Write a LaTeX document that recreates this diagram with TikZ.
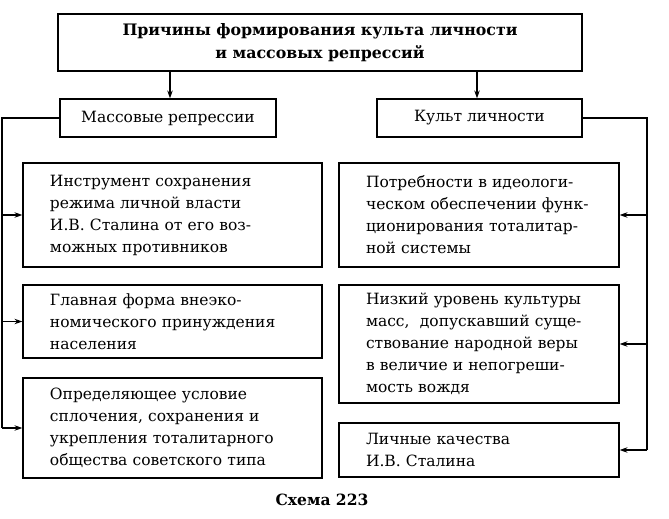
\documentclass[tikz,border=0pt]{standalone}
\usepackage{fontspec}
\setmainfont{DejaVu Serif}
\usepackage{xcolor}
\usetikzlibrary{arrows.meta}
\newcommand{\boxinset}{\leftskip=23pt\relax}
\tikzstyle{causeBlock}=[draw,line width=1.2pt,inner xsep=4pt,inner ysep=0pt,align=left,font=\fontsize{15.5}{22}\selectfont,execute at begin node=\boxinset]
\tikzstyle{headBlock}=[draw,line width=1.2pt,inner sep=0pt,font=\fontsize{15.5}{22}\selectfont]
\tikzstyle{titleBlock}=[draw,line width=1.2pt,inner sep=0pt,align=center,font=\bfseries\fontsize{15.8}{23}\selectfont]
\tikzstyle{invisNode}=[circle, line width=0mm, inner sep=0pt]
\tikzstyle{feedLine}=[line width=1.2pt]
\tikzstyle{feedArrow}=[-{Stealth[length=8pt,width=5.5pt]}, line width=1.2pt]

\begin{document}
\begin{tikzpicture}[x=1pt,y=-1pt]
    \useasboundingbox (0,0) rectangle (669,519);

    % Title
    \node[titleBlock,minimum width=524pt,minimum height=57pt] (title) at (320,42.5) {Причины формирования культа личности\\ и массовых репрессий};

    % Two branches
    \node[headBlock,minimum width=216pt,minimum height=38pt] (repr) at (168,118) {Массовые репрессии};
    \node[headBlock,minimum width=205pt,minimum height=38pt] (cult) at (479.5,118) {Культ личности};
    \draw[feedArrow] (title.south -| 170,0) -- (repr.north -| 170,0);
    \draw[feedArrow] (title.south -| 477,0) -- (cult.north -| 477,0);

    % Left column
    \node[causeBlock,text width=291pt,minimum height=104pt] (l1) at (172.5,215) {Инструмент сохранения\\ режима личной власти\\ И.В. Сталина от его воз-\\ можных противников};
    \node[causeBlock,text width=291pt,minimum height=73pt] (l2) at (172.5,321.5) {Главная форма внеэко-\\ номического принуждения\\ населения};
    \node[causeBlock,text width=291pt,minimum height=100pt] (l3) at (172.5,428) {Определяющее условие\\ сплочения, сохранения и\\ укрепления тоталитарного\\ общества советского типа};

    \coordinate (lbusTop) at (2,118);
    \coordinate (lbusBot) at (2,428);
    \draw[feedLine] (repr.west) -- (lbusTop) -- (lbusBot);
    \draw[feedArrow] (lbusTop |- l1.west) -- (l1.west);
    \draw[feedArrow] (lbusTop |- l2.west) -- (l2.west);
    \draw[feedArrow] (lbusBot) -- (l3.west);

    % Right column
    \node[causeBlock,text width=272pt,minimum height=104pt] (r1) at (479,215) {Потребности в идеологи-\\ ческом обеспечении функ-\\ ционирования тоталитар-\\ ной системы};
    \node[causeBlock,text width=272pt,minimum height=118pt] (r2) at (479,344) {Низкий уровень культуры\\ масс,\ \ допускавший суще-\\ ствование народной веры\\ в величие и непогреши-\\ мость вождя};
    \node[causeBlock,text width=272pt,minimum height=54pt] (r3) at (479,450) {Личные качества\\ И.В. Сталина};

    \coordinate (rbusTop) at (647,118);
    \coordinate (rbusBot) at (647,450);
    \draw[feedLine] (cult.east) -- (rbusTop) -- (rbusBot);
    \draw[feedArrow] (rbusTop |- r1.east) -- (r1.east);
    \draw[feedArrow] (rbusTop |- r2.east) -- (r2.east);
    \draw[feedArrow] (rbusBot) -- (r3.east);

    % Caption
    \node[invisNode,font=\bfseries\fontsize{15.5}{20}\selectfont] (caption) at (322,500) {Схема 223};
\end{tikzpicture}
\end{document}
